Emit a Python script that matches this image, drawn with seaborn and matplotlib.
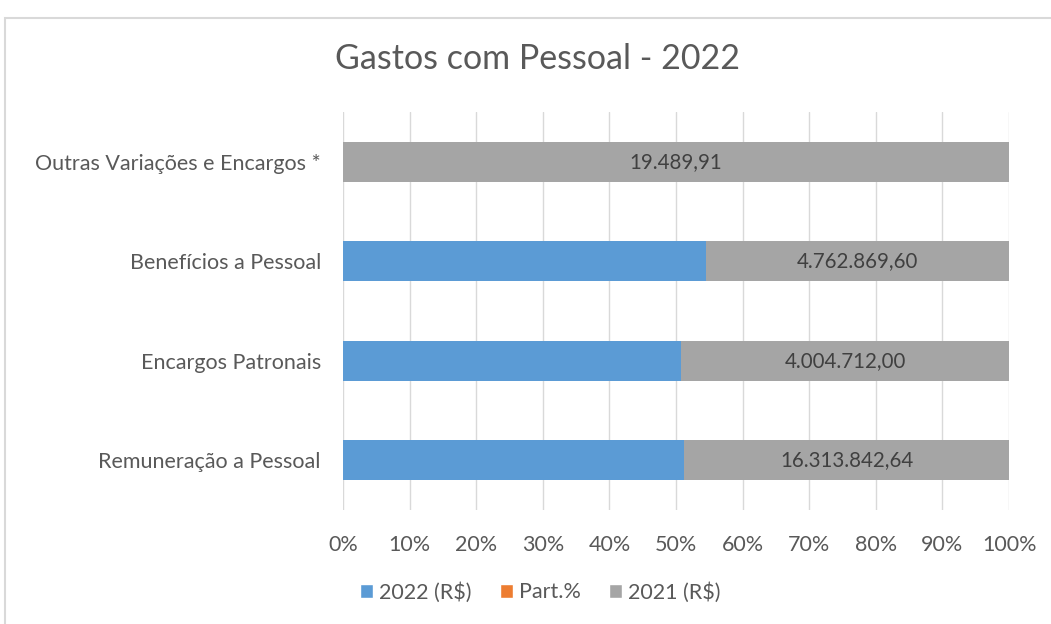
import numpy as np
import pandas as pd
import matplotlib
matplotlib.use("Agg")
import matplotlib.pyplot as plt
from matplotlib.patches import Rectangle, Patch
from matplotlib.ticker import PercentFormatter
import seaborn as sns

# data (top to bottom as shown)
categorias = ["Outras Variações e Encargos *", "Benefícios a Pessoal",
              "Encargos Patronais", "Remuneração a Pessoal"]
v2022 = [0.0, 5705000.0, 4135000.0, 17116000.0]   # estimated from bar shares
part = [0.0, 10.0, 8.0, 60.0]                     # Part.% (negligible in 100% stack)
v2021 = [19489.91, 4762869.60, 4004712.00, 16313842.64]
rotulos2021 = ["19.489,91", "4.762.869,60", "4.004.712,00", "16.313.842,64"]
series = ["2022 (R$)", "Part.%", "2021 (R$)"]
cores = ["#5b9bd5", "#ed7d31", "#a5a5a5"]

df = pd.DataFrame({"cat": categorias, "2022 (R$)": v2022, "Part.%": part, "2021 (R$)": v2021})
tot = df[series].sum(axis=1)
pct = df[series].div(tot, axis=0) * 100
cum = pct.cumsum(axis=1)

sns.set_theme(style="white")
plt.rcParams["font.family"] = ["Lato", "DejaVu Sans"]

fig = plt.figure(figsize=(10.51, 6.24), dpi=100)
ax = fig.add_axes([0.3264, 0.183, 0.6337, 0.6375])

# draw from the full stack down so each segment shows
for s, c in reversed(list(zip(series, cores))):
    sns.barplot(x=cum[s], y=df["cat"], order=categorias, color=c, width=0.4,
                orient="h", ax=ax, saturation=1, edgecolor="none")

for i, lab in enumerate(rotulos2021):
    left = cum["Part.%"][i]
    ax.text((left + 100) / 2, i, lab, ha="center", va="center",
            fontsize=14.8, color="#404040")

ax.set_xlim(0, 100)
ax.set_xticks(np.arange(0, 101, 10))
ax.xaxis.set_major_formatter(PercentFormatter(decimals=0))
ax.grid(axis="x", color="#d9d9d9", linewidth=1)
ax.set_axisbelow(True)
for sp in ax.spines.values():
    sp.set_visible(False)
ax.set_xlabel("")
ax.set_ylabel("")
ax.tick_params(axis="both", length=0, labelsize=15.5, labelcolor="#595959")
ax.tick_params(axis="x", pad=18)
ax.tick_params(axis="y", pad=16)

fig.text(0.511, 0.905, "Gastos com Pessoal - 2022", ha="center", va="center",
         fontsize=24.5, color="#595959")

handles = [Patch(facecolor=c, label=s) for s, c in zip(series, cores)]
fig.legend(handles=handles, loc="center", bbox_to_anchor=(0.514, 0.051), ncol=3,
           frameon=False, fontsize=15.5, handlelength=0.6, handleheight=0.6,
           handletextpad=0.3, columnspacing=1.3, labelcolor="#595959")

fig.patches.append(Rectangle((5 / 1051, -0.01), 1.0, 0.99 - 12 / 624 + 0.01,
                             transform=fig.transFigure, fill=False,
                             edgecolor="#d9d9d9", linewidth=1.5))

fig.savefig("out.png", dpi=100)
